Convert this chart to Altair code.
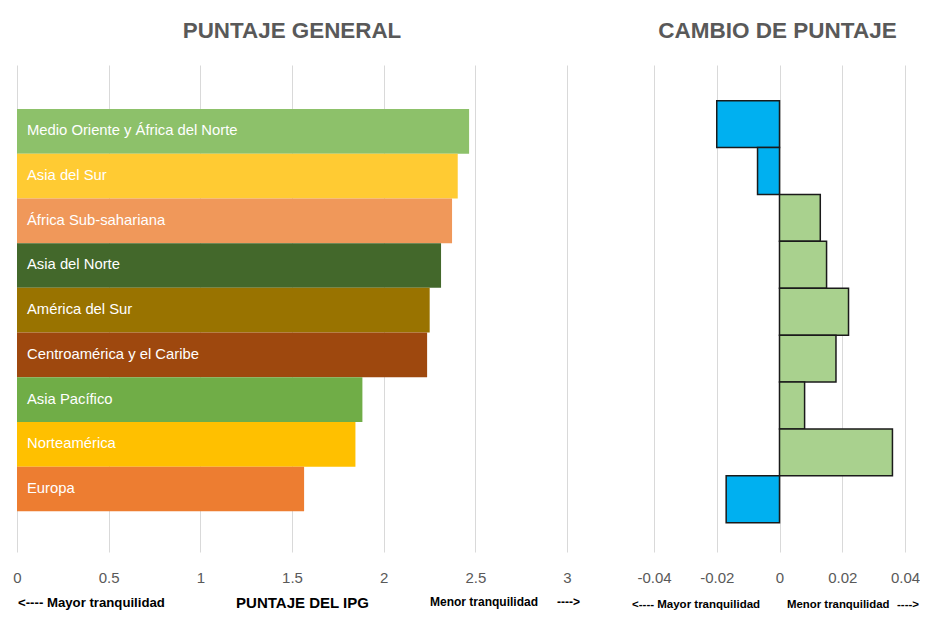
import altair as alt
import pandas as pd

regions = ["Medio Oriente y África del Norte", "Asia del Sur", "África Sub-sahariana",
           "Asia del Norte", "América del Sur", "Centroamérica y el Caribe",
           "Asia Pacífico", "Norteamérica", "Europa"]
scores = [2.466, 2.404, 2.373, 2.313, 2.251, 2.237, 1.884, 1.846, 1.566]
changes = [-0.020, -0.007, 0.013, 0.015, 0.022, 0.018, 0.008, 0.036, -0.017]
bar_colors = ["#8DC16A", "#FFCB33", "#F0985A", "#43682B", "#997300",
              "#9E480E", "#70AD47", "#FFC000", "#ED7D31"]
left_ticks = [0, 0.5, 1, 1.5, 2, 2.5, 3]
right_ticks = [-0.04, -0.02, 0, 0.02, 0.04]

title_left = "PUNTAJE GENERAL"
title_right = "CAMBIO DE PUNTAJE"
axis_left = "PUNTAJE DEL IPG"
less = "<---- Mayor tranquilidad"
more = "Menor tranquilidad"
arrow = "---->"

df = pd.DataFrame({"region": regions, "score": scores, "change": changes})

SANS = "Liberation Sans, Arial, sans-serif"
GRAY = "#595959"

y_left = alt.Y("region:N", sort=regions, axis=None,
               scale=alt.Scale(paddingInner=0, paddingOuter=0.947, align=0.52))
y_right = alt.Y("region:N", sort=regions, axis=None,
                scale=alt.Scale(paddingInner=0, paddingOuter=0.692, align=0.549))

axis_common = dict(orient="bottom", domain=False, ticks=False, grid=True,
                   gridColor="#D9D9D9", gridWidth=1, labelFont=SANS,
                   labelFontSize=15, labelColor=GRAY, labelPadding=18,
                   labelFlush=False, labelOverlap=False,
                   title=None, labelExpr="'' + datum.value")

left_bars = alt.Chart(df).mark_bar(strokeWidth=0).encode(
    x=alt.X("score:Q", scale=alt.Scale(domain=[0, 3], range=[0, 550], nice=False),
            axis=alt.Axis(values=left_ticks, **axis_common)),
    y=y_left,
    color=alt.Color("region:N", scale=alt.Scale(domain=regions, range=bar_colors), legend=None),
)
left_labels = alt.Chart(df).mark_text(align="left", baseline="middle", font=SANS,
                                      fontSize=14.8, color="white").encode(
    x=alt.value(10), y=y_left, text="region:N")
left = alt.layer(left_bars, left_labels)

right = alt.Chart(df).mark_bar(stroke="#1A1A1A", strokeWidth=1.5).encode(
    x=alt.X("change:Q", scale=alt.Scale(domain=[-0.04, 0.04], range=[637, 888], nice=False),
            axis=alt.Axis(values=right_ticks, **axis_common)),
    y=y_right,
    color=alt.condition(alt.datum.change < 0, alt.value("#00B0F0"), alt.value("#A9D18E")),
)

one = alt.Data(values=[{}])

def note(txt, x, y, size, align="left", color="black"):
    return alt.Chart(one).mark_text(text=txt, font=SANS, fontSize=size, fontWeight="bold",
                                    align=align, baseline="alphabetic", color=color).encode(
        x=alt.value(x), y=alt.value(y))

notes = [
    note(title_left, 275, -27, 22.4, "center", GRAY),
    note(title_right, 760.5, -27, 22.5, "center", GRAY),
    note(less, 1, 542, 13.2),
    note(axis_left, 285.5, 543, 15, "center"),
    note(more, 413, 541, 12),
    note(arrow, 540, 541, 12),
    note(less, 615, 543, 11.5),
    note(more, 770, 543, 11.4),
    note(arrow, 880, 543, 11.5),
]

chart = alt.layer(left, right, *notes).resolve_scale(
    x="independent", y="independent", color="independent"
).properties(
    width=888, height=487,
    autosize=alt.AutoSizeParams(type="none"),
    padding={"left": 9, "top": 57, "right": 15, "bottom": 59},
).configure_view(stroke=None)

chart.save("out.html", embed_options={"renderer": "svg", "actions": False})
